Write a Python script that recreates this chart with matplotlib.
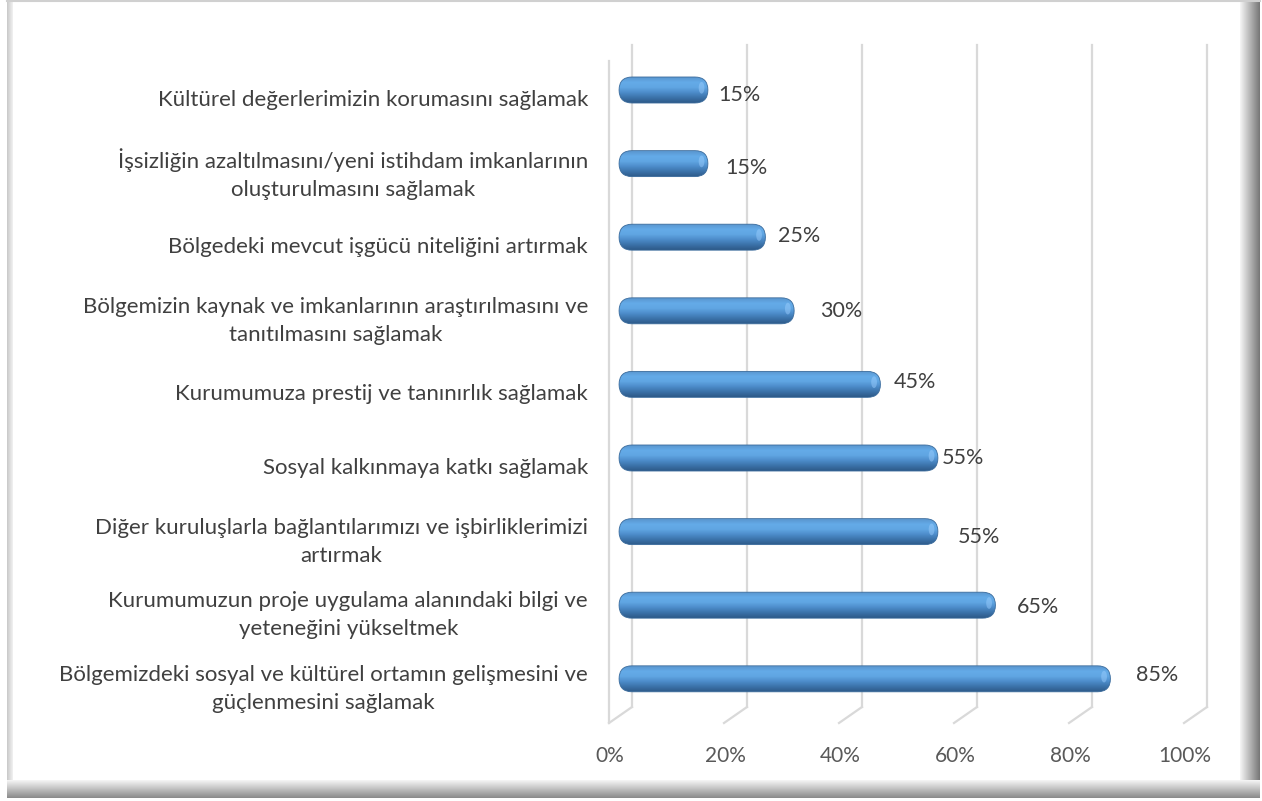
import numpy as np
import matplotlib.pyplot as plt
from matplotlib.patches import FancyBboxPatch, Ellipse
from matplotlib.colors import to_rgb

# Chart data (top to bottom)
categories = [
    "Kültürel değerlerimizin korumasını sağlamak",
    "İşsizliğin azaltılmasını/yeni istihdam imkanlarının\noluşturulmasını sağlamak",
    "Bölgedeki mevcut işgücü niteliğini artırmak",
    "Bölgemizin kaynak ve imkanlarının araştırılmasını ve\ntanıtılmasını sağlamak",
    "Kurumumuza prestij ve tanınırlık sağlamak",
    "Sosyal kalkınmaya katkı sağlamak",
    "Diğer kuruluşlarla bağlantılarımızı ve işbirliklerimizi\nartırmak",
    "Kurumumuzun proje uygulama alanındaki bilgi ve\nyeteneğini yükseltmek",
    "Bölgemizdeki sosyal ve kültürel ortamın gelişmesini ve\ngüçlenmesini sağlamak",
]
values = [15, 15, 25, 30, 45, 55, 55, 65, 85]
xticks = [0, 20, 40, 60, 80, 100]
xtick_labels = ["0%", "20%", "40%", "60%", "80%", "100%"]

# label nudges (px) as Excel placed them
label_dx = [10, 17, 13, 26, 13, 4, 20, 21, 26]
label_dy = [5, 4, -1, 0, -2, 0, 5, 2, -4]

plt.rcParams['font.family'] = ['Lato', 'DejaVu Sans']

W, H = 1262, 801
fig = plt.figure(figsize=(W / 100, H / 100), dpi=100)

# ---- background frame (pixel coords) ----
bg = fig.add_axes([0, 0, 1, 1])
bg.set_xlim(0, W)
bg.set_ylim(H, 0)
bg.axis('off')


def grad(ax, x0, x1, y0, y1, c0, c1, horizontal=True, n=64):
    c0, c1 = np.array(to_rgb(c0)), np.array(to_rgb(c1))
    t = np.linspace(0, 1, n)[:, None]
    cols = c0 * (1 - t) + c1 * t
    img = cols[None, :, :] if horizontal else cols[:, None, :]
    ax.imshow(img, extent=(x0, x1, y1, y0), origin='upper', aspect='auto',
              interpolation='bilinear', zorder=1)


grad(bg, 7, 13, 0, 798, '#c8c8c8', '#f2f2f2')
grad(bg, 1240, 1260, 0, 798, '#f6f6f6', '#767676')
grad(bg, 7, 1260, 780, 798, '#f6f6f6', '#8a8a8a', horizontal=False)
bg.plot([7, 1260], [1, 1], color='#d0d0d0', lw=1.5, zorder=2)
bg.add_patch(plt.Rectangle((13, 3), 1227, 777, facecolor='white',
                           edgecolor='none', zorder=2))
bg.set_xlim(0, W)
bg.set_ylim(H, 0)

# ---- main plot ----
px_per_unit = 5.75   # px per percent
x0_px = 620.5        # pixel x of 0% at mid depth
y0_px = 90.0         # pixel y of first bar
pitch = 73.6         # px between bars

ax_l, ax_r, ax_t, ax_b = 20, 1235, 10, 785
ax = fig.add_axes([ax_l / W, 1 - ax_b / H, (ax_r - ax_l) / W, (ax_b - ax_t) / H])
ax.set_xlim((ax_l - x0_px) / px_per_unit, (ax_r - x0_px) / px_per_unit)
ax.set_ylim((ax_b - y0_px) / pitch, (ax_t - y0_px) / pitch)
ax.axis('off')

dxu = 23 / 2 / px_per_unit   # half depth offset, x units
dyu = 16 / 2 / pitch         # half depth offset, y units
y_floor = (715 - y0_px) / pitch
y_top = (53 - y0_px) / pitch
grid_c = '#d9d9d9'

for t in xticks:
    ax.plot([t + dxu, t + dxu], [y_top - dyu, y_floor - dyu], color=grid_c, lw=1.6, zorder=1)
    ax.plot([t + dxu, t - dxu], [y_floor - dyu, y_floor + dyu], color=grid_c, lw=1.6, zorder=1)
ax.plot([-dxu, -dxu], [y_top + dyu, y_floor + dyu], color=grid_c, lw=1.6, zorder=1)

for t, lab in zip(xticks, xtick_labels):
    ax.text(t - dxu + 0.2, (756 - y0_px) / pitch, lab, ha='center', va='center',
            fontsize=15, color='#595959')

# cylinder bars
bar_h = 26 / pitch
r_x = 13 / px_per_unit
aspect = (13 / pitch) / r_x
stops = ['#5a96cf', '#64abe8', '#60a5e2', '#4c8bc9', '#3b71a8', '#2d5a88']
n = 80
tt = np.linspace(0, 1, len(stops))
ts = np.linspace(0, 1, n)
rgb = np.array([to_rgb(c) for c in stops])
col = np.stack([np.interp(ts, tt, rgb[:, k]) for k in range(3)], axis=1)
gimg = col[:, None, :]

for i, v in enumerate(values):
    xs, xe = -0.25, v + 0.2
    yt, yb = i - bar_h / 2, i + bar_h / 2
    patch = FancyBboxPatch((xs, yt), xe - xs, bar_h,
                           boxstyle=f"round,pad=0,rounding_size={r_x}",
                           mutation_aspect=aspect, facecolor='none',
                           edgecolor='#3a6b9c', lw=0.6, zorder=4)
    ax.add_patch(patch)
    im = ax.imshow(gimg, extent=(xs, xe, yb, yt), origin='upper',
                   aspect='auto', interpolation='bilinear', zorder=3)
    im.set_clip_path(patch)
    ax.add_patch(Ellipse((xe - 1.1, i - 0.03), 1.0, bar_h * 0.45,
                         facecolor='#9fd0ff', alpha=0.45, edgecolor='none', zorder=5))

    ax.text(xe + label_dx[i] / px_per_unit, i + label_dy[i] / pitch, f"{v}%",
            ha='left', va='center', fontsize=15.5, color='#404040', zorder=6)

    ax.text((588 - x0_px) / px_per_unit, i + 10 / pitch, categories[i],
            ha='right', va='center', multialignment='center', fontsize=16,
            color='#404040', linespacing=1.5)

ax.set_xlim((ax_l - x0_px) / px_per_unit, (ax_r - x0_px) / px_per_unit)
ax.set_ylim((ax_b - y0_px) / pitch, (ax_t - y0_px) / pitch)

fig.savefig('out.png', dpi=100)
